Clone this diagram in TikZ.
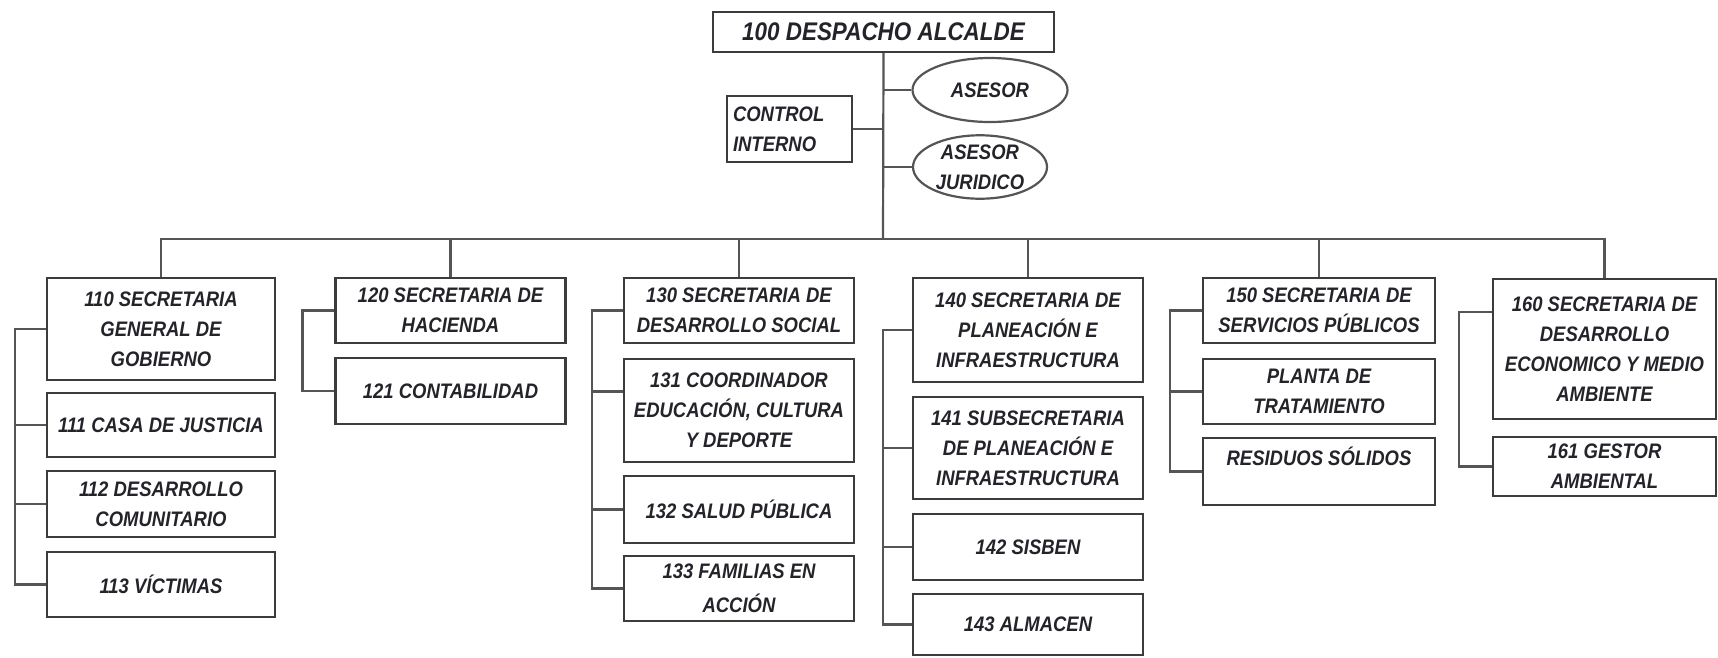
\documentclass[tikz,border=0pt]{standalone}
\usepackage{fontspec}
\newfontfamily\orgfont{Liberation Sans}[FakeStretch=0.88]
\usepackage{tikz}
\usetikzlibrary{shapes,positioning,calc}
\definecolor{boxgray}{RGB}{60,60,60}
\definecolor{linegray}{RGB}{85,85,85}
\definecolor{textdark}{RGB}{35,35,42}

\tikzset{
  orgtext/.style={font=\orgfont\bfseries\itshape\fontsize{21}{30}\selectfont, text=textdark},
  unitbox/.style={orgtext, rectangle, draw=boxgray, line width=2.2pt, align=center, inner sep=0pt, minimum width=230pt},
  advisor/.style={orgtext, ellipse, draw=linegray, line width=2.2pt, align=center, inner sep=0pt},
  link/.style={draw=linegray, line width=2.2pt}
}

\begin{document}
\begin{tikzpicture}[x=1pt,y=-1pt]
\useasboundingbox (0,0) rectangle (1718,657);

% despacho y asesores
\node[unitbox, minimum width=341pt, minimum height=40pt, font=\orgfont\bfseries\itshape\fontsize{25.5}{30}\selectfont] (alcalde) at (883.5,32) {100 DESPACHO ALCALDE};
\node[unitbox, align=left, minimum width=125pt, minimum height=66pt, text width=113pt, inner xsep=6pt] (control) at (789.5,129) {CONTROL\\INTERNO};
\node[advisor, minimum width=155pt, minimum height=64pt] (asesor) at (990,90) {ASESOR};
\node[advisor, minimum width=134pt, minimum height=63pt] (juridico) at (980,167) {ASESOR\\JURIDICO};

% secretarias
\node[unitbox, minimum width=228pt, minimum height=102pt] (s110) at (161,329) {110 SECRETARIA\\GENERAL DE\\GOBIERNO};
\node[unitbox, minimum width=228pt, minimum height=64pt] (s111) at (161,425) {111 CASA DE JUSTICIA};
\node[unitbox, minimum width=228pt, minimum height=66pt] (s112) at (161,504) {112 DESARROLLO\\COMUNITARIO};
\node[unitbox, minimum width=228pt, minimum height=65pt] (s113) at (161,584.5) {113 VÍCTIMAS};

\node[unitbox, minimum height=65pt] (s120) at (450.5,310.5) {120 SECRETARIA DE\\HACIENDA};
\node[unitbox, minimum height=66pt] (s121) at (450.5,391) {121 CONTABILIDAD};

\node[unitbox, minimum height=65pt] (s130) at (739,310.5) {130 SECRETARIA DE\\DESARROLLO SOCIAL};
\node[unitbox, minimum height=103pt] (s131) at (739,410.5) {131 COORDINADOR\\EDUCACIÓN, CULTURA\\Y DEPORTE};
\node[unitbox, minimum height=67pt] (s132) at (739,509.5) {132 SALUD PÚBLICA};
\node[unitbox, minimum height=65pt] (s133) at (739,588.5) {133 FAMILIAS EN\\[4pt]ACCIÓN};

\node[unitbox, minimum height=104pt] (s140) at (1028,330) {140 SECRETARIA DE\\PLANEACIÓN E\\INFRAESTRUCTURA};
\node[unitbox, minimum height=102pt] (s141) at (1028,448) {141 SUBSECRETARIA\\DE PLANEACIÓN E\\INFRAESTRUCTURA};
\node[unitbox, minimum height=66pt] (s142) at (1028,547) {142 SISBEN};
\node[unitbox, minimum height=61pt] (s143) at (1028,624.5) {143 ALMACEN};

\node[unitbox, minimum width=232pt, minimum height=65pt] (s150) at (1319,310.5) {150 SECRETARIA DE\\SERVICIOS PÚBLICOS};
\node[unitbox, minimum width=232pt, minimum height=65pt] (s151) at (1319,391.5) {PLANTA DE\\TRATAMIENTO};
\node[unitbox, minimum width=232pt, minimum height=67pt] (s152) at (1319,471.5) {RESIDUOS SÓLIDOS\\ \phantom{X}};

\node[unitbox, minimum width=223pt, minimum height=140pt] (s160) at (1604.5,349) {160 SECRETARIA DE\\DESARROLLO\\ECONOMICO Y MEDIO\\AMBIENTE};
\node[unitbox, minimum width=223pt, minimum height=59pt] (s161) at (1604.5,466.5) {161 GESTOR\\AMBIENTAL};

% tronco y barra
\coordinate (bus) at (883,239);
\draw[link] (alcalde.south) -- (bus);
\draw[link] (asesor.west) -- (asesor.west -| bus);
\draw[link] (juridico.west) -- (juridico.west -| bus);
\draw[link] (control.east) -- (control.east -| bus);
\draw[link] (s110.north) |- (bus) -| (s160.north);
\foreach \u in {120,130,140,150}
  \draw[link] (s\u.north) -- (s\u.north |- bus);

% dependencias
\draw[link] (s110.west) -| ([xshift=-31pt]s113.west) -- (s113.west);
\foreach \u in {111,112}
  \draw[link] (s\u.west) -- ++(-31pt,0);
\draw[link] (s120.west) -| ([xshift=-32pt]s121.west) -- (s121.west);
\draw[link] (s130.west) -| ([xshift=-31pt]s133.west) -- (s133.west);
\draw[link] ([yshift=19pt]s131.west) -- ++(-31pt,0);
\draw[link] (s132.west) -- ++(-31pt,0);
\draw[link] (s140.west) -| ([xshift=-29pt]s143.west) -- (s143.west);
\foreach \u in {141,142}
  \draw[link] (s\u.west) -- ++(-29pt,0);
\draw[link] (s150.west) -| ([xshift=-32pt]s152.west) -- (s152.west);
\draw[link] (s151.west) -- ++(-32pt,0);
\draw[link] ([yshift=37pt]s160.west) -| ([xshift=-33pt]s161.west) -- (s161.west);
\end{tikzpicture}
\end{document}
